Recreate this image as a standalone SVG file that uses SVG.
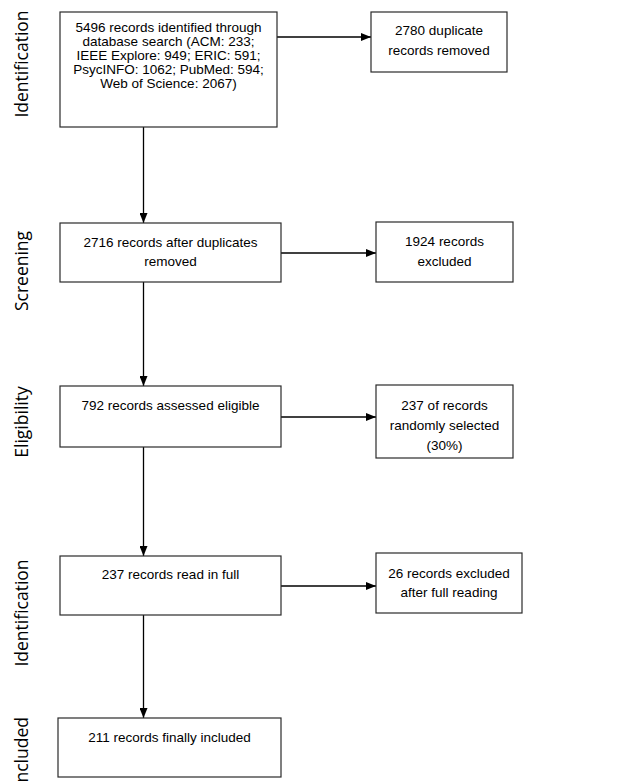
<svg xmlns="http://www.w3.org/2000/svg" width="632" height="783" viewBox="0 0 632 783">
<defs>
<style>
.box{fill:#fff;stroke:#2a2a2a;stroke-width:1.2}
.t{font-family:"Liberation Sans",Arial,sans-serif;font-size:13.5px;fill:#000;text-anchor:middle}
.lab{font-family:"Open Sans","DejaVu Sans",sans-serif;font-size:17.5px;fill:#000;text-anchor:middle}
.c{stroke:#000;stroke-width:1.3;fill:none;marker-end:url(#ah)}
</style>
<marker id="ah" viewBox="0 0 10 8" refX="10" refY="4" markerWidth="10" markerHeight="8" markerUnits="userSpaceOnUse" orient="auto">
<path d="M0,0 L10,4 L0,8 Z" fill="#000"/>
</marker>
</defs>
<rect width="632" height="783" fill="#fff"/>
<g id="labels">
<text class="lab" transform="translate(28,64) rotate(-90)">Identification</text>
<text class="lab" transform="translate(28,271) rotate(-90)">Screening</text>
<text class="lab" transform="translate(28,422) rotate(-90)">Eligibility</text>
<text class="lab" transform="translate(28,613) rotate(-90)">Identification</text>
<text class="lab" transform="translate(28,717) rotate(-90)" style="text-anchor:end">Included</text>
</g>
<g id="connectors">
<line class="c" x1="277" y1="37" x2="371" y2="37"/>
<line class="c" x1="143.5" y1="127" x2="143.5" y2="223"/>
<line class="c" x1="281" y1="253" x2="376" y2="253"/>
<line class="c" x1="143.5" y1="282" x2="143.5" y2="386"/>
<line class="c" x1="281" y1="417" x2="376" y2="417"/>
<line class="c" x1="143.5" y1="447" x2="143.5" y2="556"/>
<line class="c" x1="281" y1="586" x2="376" y2="586"/>
<line class="c" x1="143.5" y1="615" x2="143.5" y2="718"/>
</g>
<g id="n1">
<rect class="box" x="60" y="12" width="217" height="115"/>
<text class="t" x="168.5" y="32">5496 records identified through</text>
<text class="t" x="168.5" y="46">database search (ACM: 233;</text>
<text class="t" x="168.5" y="60">IEEE Explore: 949; ERIC: 591;</text>
<text class="t" x="168.5" y="74">PsycINFO: 1062; PubMed: 594;</text>
<text class="t" x="168.5" y="88">Web of Science: 2067)</text>
</g>
<g id="n2">
<rect class="box" x="371" y="12" width="136" height="60"/>
<text class="t" x="439" y="34.5">2780 duplicate</text>
<text class="t" x="439" y="54.5">records removed</text>
</g>
<g id="n3">
<rect class="box" x="60" y="223" width="221" height="59"/>
<text class="t" x="170.5" y="246.5">2716 records after duplicates</text>
<text class="t" x="170.5" y="266">removed</text>
</g>
<g id="n4">
<rect class="box" x="376" y="222" width="137" height="60"/>
<text class="t" x="444.5" y="245.5">1924 records</text>
<text class="t" x="444.5" y="265.5">excluded</text>
</g>
<g id="n5">
<rect class="box" x="60" y="386" width="221" height="61"/>
<text class="t" x="170.5" y="410">792 records assessed eligible</text>
</g>
<g id="n6">
<rect class="box" x="376" y="385" width="137" height="73"/>
<text class="t" x="444.5" y="410">237 of records</text>
<text class="t" x="444.5" y="430">randomly selected</text>
<text class="t" x="444.5" y="450">(30%)</text>
</g>
<g id="n7">
<rect class="box" x="60" y="556" width="221" height="59"/>
<text class="t" x="170.5" y="578.5">237 records read in full</text>
</g>
<g id="n8">
<rect class="box" x="376" y="553" width="146" height="60"/>
<text class="t" x="449" y="578">26 records excluded</text>
<text class="t" x="449" y="597">after full reading</text>
</g>
<g id="n9">
<rect class="box" x="58" y="718" width="223" height="59"/>
<text class="t" x="169.5" y="741.5">211 records finally included</text>
</g>
</svg>
